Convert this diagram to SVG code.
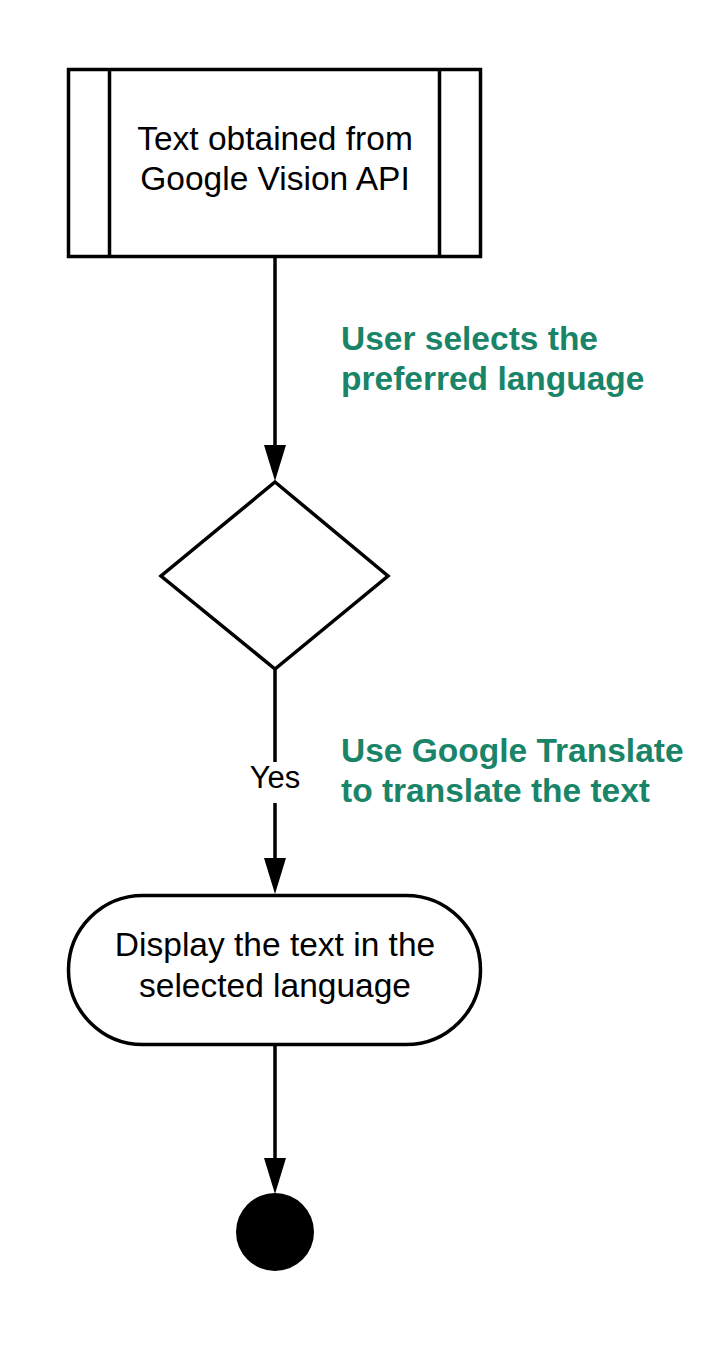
<svg xmlns="http://www.w3.org/2000/svg" width="702" height="1345" viewBox="0 0 702 1345">
<style>
.shape{fill:#fff;stroke:#000;stroke-width:3.5}
.t{font-family:"Liberation Sans",Arial,sans-serif;font-size:33.5px;fill:#000;text-anchor:middle}
.g{font-family:"Liberation Sans",Arial,sans-serif;font-size:33.5px;font-weight:bold;fill:#1a8468}
.line{stroke:#000;stroke-width:3.5;fill:none}
</style>
<rect width="702" height="1345" fill="#fff"/>
<g id="connectors">
<line class="line" x1="275" y1="257" x2="275" y2="446"/>
<path d="M264,445 L286,445 L275,481 Z" fill="#000"/>
<line class="line" x1="275" y1="669" x2="275" y2="860"/>
<path d="M264,858 L286,858 L275,894 Z" fill="#000"/>
<line class="line" x1="275" y1="1045" x2="275" y2="1160"/>
<path d="M264,1158 L286,1158 L275,1194 Z" fill="#000"/>
<rect x="245" y="762" width="60" height="41" fill="#fff"/>
<text class="t" x="275" y="788" style="font-size:31px">Yes</text>
<text class="g" x="341" y="350">User selects the</text>
<text class="g" x="341" y="390">preferred language</text>
<text class="g" x="341" y="762">Use Google Translate</text>
<text class="g" x="341" y="802">to translate the text</text>
</g>
<g id="start">
<rect class="shape" x="68.5" y="69.5" width="412" height="187"/>
<line class="line" x1="109.5" y1="69.5" x2="109.5" y2="256.5"/>
<line class="line" x1="439.5" y1="69.5" x2="439.5" y2="256.5"/>
<text class="t" x="275" y="150">Text obtained from</text>
<text class="t" x="275" y="190">Google Vision API</text>
</g>
<g id="decision">
<path class="shape" d="M275,482 L388,576 L275,669 L161,576 Z"/>
</g>
<g id="display">
<rect class="shape" x="68.5" y="895.5" width="412" height="149" rx="74.5" ry="74.5"/>
<text class="t" x="275" y="956">Display the text in the</text>
<text class="t" x="275" y="997">selected language</text>
</g>
<g id="end">
<circle cx="275" cy="1232" r="39" fill="#000"/>
</g>
</svg>
